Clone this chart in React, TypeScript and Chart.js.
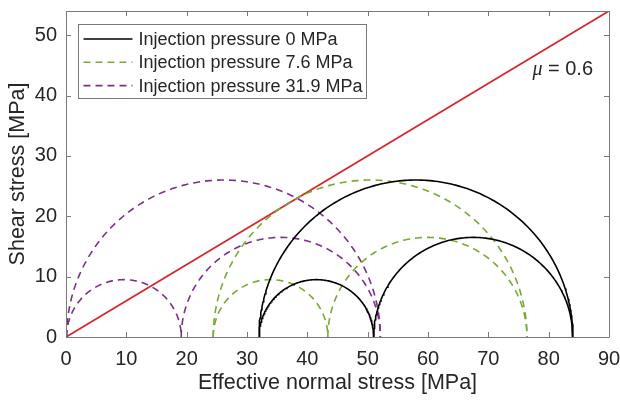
import React, { useEffect, useRef } from "react";
import { Chart, registerables } from "chart.js";

Chart.register(...registerables);

// Injection pressures (MPa) and their legend entries
const injectionPressures = [0, 7.6, 31.9];
const pressureLabels = [
  "Injection pressure 0 MPa",
  "Injection pressure 7.6 MPa",
  "Injection pressure 31.9 MPa",
];
// Principal effective stresses at zero injection pressure: sigma3, sigma2, sigma1 (MPa)
const principalStresses = [32, 51, 84];
const seriesColors = ["#000000", "#77AC30", "#7E2F8E"];
const seriesDashes: number[][] = [[], [7, 5], [7, 5]];

// Coulomb failure line
const frictionCoefficient = 0.6;
const frictionLabel = "= 0.6";
const frictionLabelPos = [77.3, 44.3];

const xTicks = [0, 10, 20, 30, 40, 50, 60, 70, 80, 90];
const yTicks = [0, 10, 20, 30, 40, 50];
const xMax = 90;
const yMax = 54;

const FONT = "'Liberation Sans', Arial, Helvetica, sans-serif";
const TEXT_COLOR = "#262626";
const AXIS_COLOR = "#7a7a7a";

// Upper half of a Mohr circle between two principal stresses
function mohrArc(a: number, b: number) {
  const c = (a + b) / 2;
  const r = (b - a) / 2;
  const pts: { x: number; y: number }[] = [];
  const n = 180;
  for (let i = 0; i <= n; i++) {
    const t = (Math.PI * i) / n;
    pts.push({ x: c - r * Math.cos(t), y: r * Math.sin(t) });
  }
  return pts;
}

const framePlugin = {
  id: "frameAndLegend",
  afterDatasetsDraw(chart: any) {
    const { ctx, chartArea } = chart;
    const xs = chart.scales.x;
    const ys = chart.scales.y;
    const { left, right, top, bottom } = chartArea;
    const tl = 5;
    ctx.save();
    ctx.strokeStyle = AXIS_COLOR;
    ctx.lineWidth = 1;
    ctx.setLineDash([]);
    ctx.beginPath();
    ctx.rect(Math.round(left) + 0.5, Math.round(top) + 0.5, Math.round(right - left), Math.round(bottom - top));
    ctx.stroke();
    ctx.beginPath();
    xTicks.forEach((v) => {
      const px = Math.round(xs.getPixelForValue(v)) + 0.5;
      ctx.moveTo(px, bottom);
      ctx.lineTo(px, bottom - tl);
      ctx.moveTo(px, top);
      ctx.lineTo(px, top + tl);
    });
    yTicks.forEach((v) => {
      const py = Math.round(ys.getPixelForValue(v)) + 0.5;
      ctx.moveTo(left, py);
      ctx.lineTo(left + tl, py);
      ctx.moveTo(right, py);
      ctx.lineTo(right - tl, py);
    });
    ctx.stroke();

    // friction coefficient label
    const lx = xs.getPixelForValue(frictionLabelPos[0]);
    const ly = ys.getPixelForValue(frictionLabelPos[1]);
    ctx.fillStyle = TEXT_COLOR;
    ctx.textBaseline = "middle";
    ctx.textAlign = "left";
    ctx.font = "italic 20px 'Liberation Serif', 'Times New Roman', serif";
    ctx.fillText("\u03bc", lx, ly);
    const mw = ctx.measureText("\u03bc").width;
    ctx.font = `20px ${FONT}`;
    ctx.fillText(" " + frictionLabel, lx + mw, ly);

    // legend box
    ctx.font = `18px ${FONT}`;
    const maxW = Math.max(...pressureLabels.map((t) => ctx.measureText(t).width));
    const bx = Math.round(left + 12) + 0.5;
    const by = Math.round(top + 13) + 0.5;
    const bw = Math.round(60 + maxW + 4);
    const bh = 74;
    ctx.fillStyle = "#ffffff";
    ctx.fillRect(bx, by, bw, bh);
    ctx.strokeStyle = AXIS_COLOR;
    ctx.strokeRect(bx, by, bw, bh);
    pressureLabels.forEach((label, i) => {
      const ry = by + 14.5 + i * 23.3;
      ctx.strokeStyle = seriesColors[i];
      ctx.lineWidth = 1.6;
      ctx.setLineDash(seriesDashes[i]);
      ctx.beginPath();
      ctx.moveTo(bx + 5, ry);
      ctx.lineTo(bx + 54, ry);
      ctx.stroke();
      ctx.setLineDash([]);
      ctx.fillStyle = TEXT_COLOR;
      ctx.fillText(label, bx + 60, ry + 1);
    });
    ctx.restore();
  },
};

export default function App() {
  const ref = useRef<HTMLCanvasElement | null>(null);

  useEffect(() => {
    if (!ref.current) return;
    const datasets: any[] = [];
    injectionPressures.forEach((p, i) => {
      const [s3, s2, s1] = principalStresses.map((s) => s - p);
      [
        [s3, s2],
        [s2, s1],
        [s3, s1],
      ].forEach(([a, b]) => {
        datasets.push({
          label: pressureLabels[i],
          data: mohrArc(a, b),
          borderColor: seriesColors[i],
          borderWidth: 1.6,
          borderDash: seriesDashes[i],
          showLine: true,
          pointRadius: 0,
          fill: false,
          tension: 0,
        });
      });
    });
    datasets.push({
      label: "Failure line",
      data: [0, xMax].map((x) => ({ x, y: frictionCoefficient * x })),
      borderColor: "#D7262B",
      borderWidth: 1.8,
      showLine: true,
      pointRadius: 0,
      fill: false,
    });

    const chart = new Chart(ref.current, {
      type: "scatter",
      data: { datasets },
      options: {
        animation: false,
        responsive: false,
        devicePixelRatio: 1,
        layout: { padding: { top: 11, right: 11, left: 0, bottom: 0 } },
        plugins: { legend: { display: false }, tooltip: { enabled: false } },
        scales: {
          x: {
            type: "linear",
            min: 0,
            max: xMax,
            grid: { display: false, drawTicks: false },
            border: { display: false },
            ticks: {
              padding: 10,
              autoSkip: false,
              maxRotation: 0,
              color: TEXT_COLOR,
              font: { family: FONT, size: 20 },
            },
            title: {
              display: true,
              text: "Effective normal stress [MPa]",
              color: TEXT_COLOR,
              font: { family: FONT, size: 21.5 },
              padding: { top: 4, bottom: 4 },
            },
            afterBuildTicks: (s: any) => {
              s.ticks = xTicks.map((v) => ({ value: v }));
            },
            afterFit: (s: any) => {
              s.height = 63;
              s.paddingLeft = 0;
              s.paddingRight = 0;
            },
          },
          y: {
            type: "linear",
            min: 0,
            max: yMax,
            grid: { display: false, drawTicks: false },
            border: { display: false },
            ticks: {
              padding: 9,
              autoSkip: false,
              color: TEXT_COLOR,
              font: { family: FONT, size: 20 },
            },
            title: {
              display: true,
              text: "Shear stress [MPa]",
              color: TEXT_COLOR,
              font: { family: FONT, size: 21.5 },
              padding: { top: 5, bottom: 5 },
            },
            afterBuildTicks: (s: any) => {
              s.ticks = yTicks.map((v) => ({ value: v }));
            },
            afterFit: (s: any) => {
              s.width = 66;
              s.paddingTop = 0;
              s.paddingBottom = 0;
            },
          },
        },
      },
      plugins: [framePlugin],
    });
    return () => chart.destroy();
  }, []);

  return (
    <div style={{ position: "fixed", left: 0, top: 0, width: 620, height: 400, background: "#fff" }}>
      <canvas ref={ref} width={620} height={400} style={{ display: "block" }} />
    </div>
  );
}
